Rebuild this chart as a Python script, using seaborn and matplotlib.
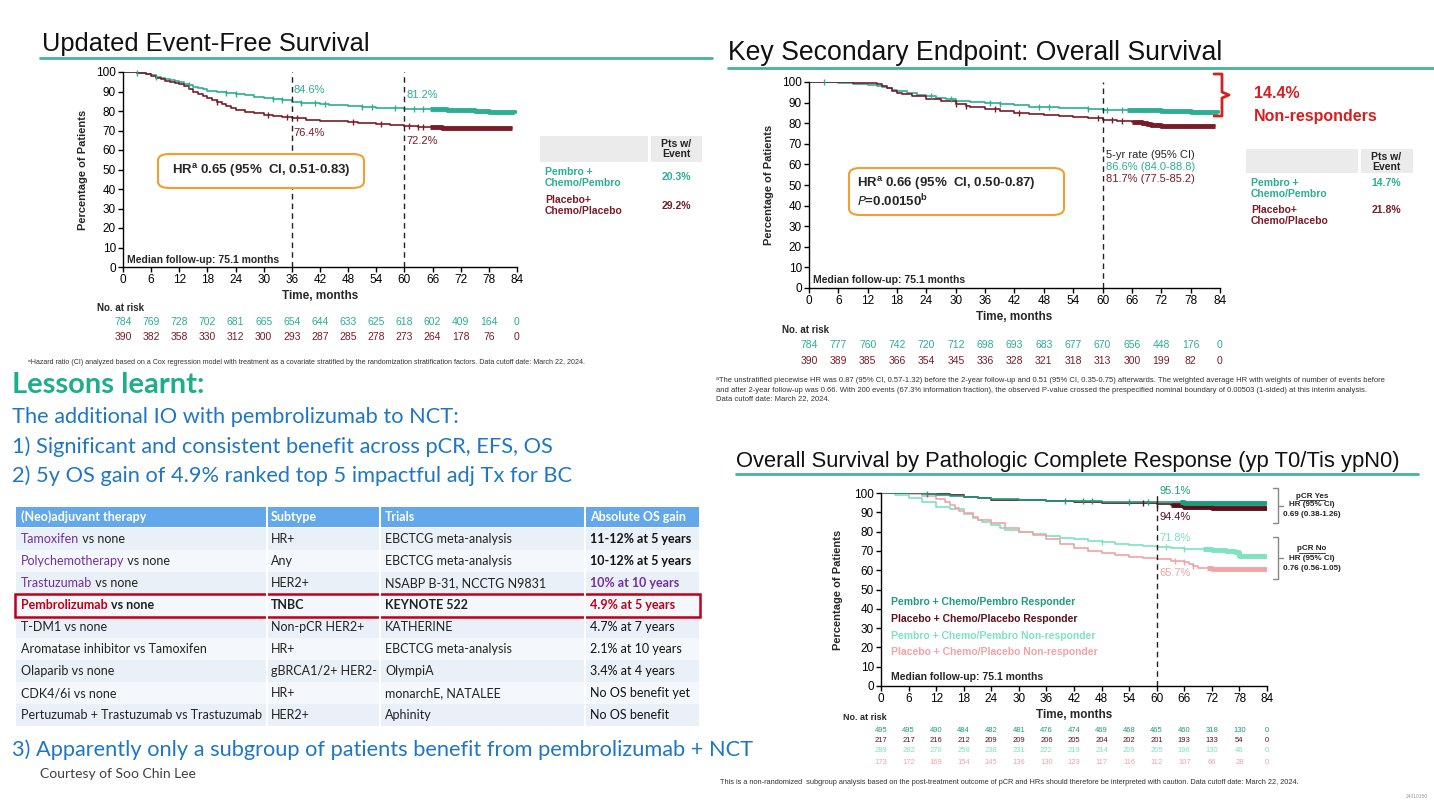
import numpy as np
import pandas as pd
import matplotlib
matplotlib.use("Agg")
import matplotlib.pyplot as plt
import seaborn as sns
from matplotlib import font_manager
from matplotlib.patches import Rectangle, FancyBboxPatch
from matplotlib.lines import Line2D

# ---------------- data ----------------
months = list(range(0, 85, 6))

# Event-free survival (KEYNOTE-522)
efs_pembro_t = [0, 3, 5, 6, 7, 8, 9, 10, 11, 12, 13, 14, 15, 16, 17, 18, 20, 22, 24, 26, 28, 30, 32, 34, 36, 38, 40, 42, 44, 46, 48, 51, 54, 57, 60, 63, 66, 69, 72, 75, 78, 81, 83.5]
efs_pembro_s = [100, 99.6, 99.2, 98.4, 97.6, 96.8, 96.2, 95.7, 95.2, 94.7, 94.0, 93.2, 92.5, 91.8, 91.1, 90.5, 89.9, 89.3, 88.6, 88.0, 87.4, 86.8, 86.2, 85.6, 84.6, 84.3, 84.0, 83.6, 83.2, 82.9, 82.6, 82.2, 81.7, 81.4, 81.2, 81.0, 80.8, 80.6, 80.3, 80.0, 79.6, 79.3, 79.2]
efs_placebo_t = [0, 3, 5, 6, 7, 8, 9, 10, 11, 12, 13, 14, 15, 16, 17, 18, 19, 20, 21, 22, 23, 24, 26, 28, 30, 32, 34, 36, 39, 42, 45, 48, 50, 52, 54, 57, 60, 63, 66, 68, 70, 83]
efs_placebo_s = [100, 99.6, 99.0, 98.0, 97.0, 96.2, 95.5, 95.0, 94.5, 93.8, 92.6, 91.4, 90.0, 88.8, 87.6, 86.5, 85.5, 84.5, 83.5, 82.5, 81.5, 80.5, 79.6, 78.8, 78.0, 77.3, 76.8, 76.4, 75.6, 75.0, 74.8, 74.6, 74.0, 73.6, 73.2, 72.7, 72.2, 71.9, 71.6, 71.4, 71.2, 71.2]
efs_pembro_cens = [3, 7, 14, 22, 24, 32, 34, 38, 41, 43, 51, 53, 58, 62, 64]
efs_placebo_cens = [20, 31, 35, 37, 49, 55, 61, 63, 64]
efs_pembro_dense = (65.5, 83.5)
efs_placebo_dense = (65.5, 83)
efs_risk_pembro = [784, 769, 728, 702, 681, 665, 654, 644, 633, 625, 618, 602, 409, 164, 0]
efs_risk_placebo = [390, 382, 358, 330, 312, 300, 293, 287, 285, 278, 273, 264, 178, 76, 0]

# Overall survival
os_pembro_t = [0, 6, 9, 12, 14, 15, 16, 17, 18, 20, 22, 24, 26, 28, 30, 33, 36, 39, 42, 45, 48, 51, 54, 57, 60, 63, 66, 69, 72, 75, 78, 81, 83.5]
os_pembro_s = [100, 99.6, 99.2, 98.6, 98.0, 97.6, 97.0, 96.3, 95.5, 94.6, 93.8, 93.0, 92.3, 91.6, 91.0, 90.4, 89.8, 89.2, 88.6, 88.1, 87.7, 87.4, 87.2, 86.9, 86.6, 86.5, 86.4, 86.2, 86.0, 85.8, 85.5, 85.2, 85.0]
os_placebo_t = [0, 9, 12, 14, 15, 16, 17, 18, 19, 21, 24, 27, 30, 32, 33, 36, 39, 42, 45, 48, 51, 54, 57, 60, 63, 66, 68, 69, 70, 72, 83]
os_placebo_s = [100, 99.7, 99.4, 99.0, 98.2, 97.0, 95.8, 94.8, 94.0, 93.3, 91.9, 90.6, 89.2, 88.4, 87.8, 86.9, 85.8, 84.9, 84.3, 83.8, 83.4, 83.0, 82.3, 81.7, 80.9, 80.4, 80.0, 79.5, 79.0, 78.5, 78.5]
os_pembro_cens = [3, 25, 29, 37, 39, 47, 49, 57, 61, 64]
os_placebo_cens = [30, 32, 38, 43, 59, 62, 64]
os_pembro_dense = (65, 83.5)
os_placebo_dense = (66, 83)
os_risk_pembro = [784, 777, 760, 742, 720, 712, 698, 693, 683, 677, 670, 656, 448, 176, 0]
os_risk_placebo = [390, 389, 385, 366, 354, 345, 336, 328, 321, 318, 313, 300, 199, 82, 0]

# OS by pathologic complete response
pcr_pr_t = [0, 9, 12, 15, 18, 21, 24, 27, 30, 36, 42, 48, 54, 60, 66, 72, 78, 84]
pcr_pr_s = [100, 99.6, 99.2, 98.6, 98.0, 97.5, 97.0, 96.8, 96.5, 96.0, 95.8, 95.5, 95.3, 95.1, 95.0, 94.8, 94.6, 94.3]
pcr_plr_t = [0, 10, 12, 15, 18, 21, 24, 30, 36, 42, 48, 54, 60, 63, 66, 69, 72, 84]
pcr_plr_s = [100, 99.7, 99.5, 98.8, 98.0, 97.2, 96.5, 96.3, 96.0, 95.5, 95.0, 94.6, 94.4, 93.6, 93.0, 92.7, 92.4, 92.2]
pcr_pn_t = [0, 3, 6, 9, 12, 15, 18, 20, 21, 22, 24, 26, 27, 30, 33, 36, 39, 42, 45, 48, 51, 54, 57, 60, 63, 66, 69, 72, 75, 77, 78, 84]
pcr_pn_s = [100, 99.0, 97.5, 95.5, 93.0, 91.5, 89.0, 87.3, 86.0, 85.0, 83.5, 82.0, 81.0, 79.7, 78.5, 77.5, 76.8, 76.0, 75.2, 74.5, 73.8, 73.2, 72.6, 71.8, 71.5, 71.0, 70.8, 70.5, 70.2, 69.3, 67.6, 67.3]
pcr_pln_t = [0, 6, 9, 12, 14, 15, 16, 17, 18, 20, 21, 24, 27, 30, 33, 36, 39, 42, 45, 48, 51, 54, 57, 60, 63, 66, 67, 68, 69, 72, 84]
pcr_pln_s = [100, 99.3, 98.5, 97.0, 95.5, 94.0, 92.2, 90.6, 89.5, 87.5, 86.0, 84.5, 82.0, 80.0, 78.3, 76.0, 73.5, 71.5, 70.0, 68.8, 68.0, 67.0, 66.3, 65.7, 64.8, 64.2, 63.0, 62.0, 61.0, 60.5, 60.5]
pcr_pn_dense = (70, 84)
pcr_pln_dense = (71, 84)
pcr_pr_dense = (65, 84)
pcr_plr_dense = (63, 84)
pcr_risk = [
    [495, 495, 490, 484, 482, 481, 476, 474, 469, 468, 465, 460, 318, 130, 0],
    [217, 217, 216, 212, 209, 209, 206, 205, 204, 202, 201, 193, 133, 54, 0],
    [289, 282, 270, 258, 238, 231, 222, 219, 214, 209, 205, 196, 130, 46, 0],
    [173, 172, 169, 154, 145, 136, 130, 123, 117, 116, 112, 107, 66, 28, 0],
]
pcr_labels = ["Pembro + Chemo/Pembro Responder", "Placebo + Chemo/Placebo Responder",
              "Pembro + Chemo/Pembro Non-responder", "Placebo + Chemo/Placebo Non-responder"]

# table of adjuvant therapies
tbl_header = ["(Neo)adjuvant therapy", "Subtype", "Trials", "Absolute OS gain"]
tbl_drug = ["Tamoxifen", "Polychemotherapy", "Trastuzumab", "Pembrolizumab", "", "", "", "", ""]
tbl_rest = [" vs none", " vs none", " vs none", " vs none", "T-DM1 vs none", "Aromatase inhibitor vs Tamoxifen",
            "Olaparib vs none", "CDK4/6i vs none", "Pertuzumab + Trastuzumab vs Trastuzumab"]
tbl_subtype = ["HR+", "Any", "HER2+", "TNBC", "Non-pCR HER2+", "HR+", "gBRCA1/2+ HER2-", "HR+", "HER2+"]
tbl_trials = ["EBCTCG meta-analysis", "EBCTCG meta-analysis", "NSABP B-31, NCCTG N9831", "KEYNOTE 522",
              "KATHERINE", "EBCTCG meta-analysis", "OlympiA", "monarchE, NATALEE", "Aphinity"]
tbl_gain = ["11-12% at 5 years", "10-12% at 5 years", "10% at 10 years", "4.9% at 5 years", "4.7% at 7 years",
            "2.1% at 10 years", "3.4% at 4 years", "No OS benefit yet", "No OS benefit"]

# ---------------- style ----------------
sns.set_style("white")
names = {f.name for f in font_manager.fontManager.ttflist}
NARROW = "Liberation Sans Narrow" if "Liberation Sans Narrow" in names else "Liberation Sans"
plt.rcParams["font.family"] = ["Liberation Sans", "DejaVu Sans"]
CAL = ["Lato", "DejaVu Sans"]

TEAL = "#2bae93"
DRED = "#7a1b28"
LTEAL = "#7de3c1"
PINK = "#f2a3a5"
RTEAL = "#1f9c7c"
RDRED = "#5e0f1c"
LINE = "#45b39d"
BLUE = "#1f77c4"
PURPLE = "#7030a0"
RED = "#c00018"

W, H = 1434, 806
fig = plt.figure(figsize=(W / 100, H / 100), dpi=100)


def add_ax(x0, y0, x1, y1):
    return fig.add_axes([x0 / W, 1 - y1 / H, (x1 - x0) / W, (y1 - y0) / H])


def ftext(x, y, s, **kw):
    kw.setdefault("va", "baseline")
    return fig.text(x / W, 1 - y / H, s, **kw)


def step_at(t, s, x):
    idx = np.searchsorted(t, x, side="right") - 1
    return np.asarray(s)[idx]


def km(ax, curves, lw=1.2):
    rows = []
    for i, c in enumerate(curves):
        rows += [(i, a, b) for a, b in zip(c["t"], c["s"])]
    df = pd.DataFrame(rows, columns=["arm", "t", "s"])
    pal = {i: c["color"] for i, c in enumerate(curves)}
    sns.lineplot(data=df, x="t", y="s", hue="arm", palette=pal, estimator=None, sort=False,
                 drawstyle="steps-post", lw=lw, legend=False, ax=ax)
    for c in curves:
        t, s = np.asarray(c["t"]), np.asarray(c["s"])
        if c.get("cens"):
            ax.plot(c["cens"], step_at(t, s, c["cens"]), ls="none", marker="|", ms=5,
                    mew=1.0, color=c["color"], clip_on=False)
        if c.get("dense"):
            w0, w1 = c["dense"]
            sub_t = [w0] + [x for x in t if w0 < x < w1] + [w1]
            ax.plot(sub_t, step_at(t, s, sub_t), drawstyle="steps-post", lw=3.5,
                    color=c["color"], solid_capstyle="butt")


def style_ax(ax, fs=8.5, ypad=6):
    ax.set_xlim(0, 84)
    ax.set_ylim(0, 100)
    ax.set_xticks(months)
    ax.set_yticks(range(0, 101, 10))
    ax.patch.set_alpha(0)
    for sp in ["top", "right"]:
        ax.spines[sp].set_visible(False)
    for sp in ["left", "bottom"]:
        ax.spines[sp].set_color("black")
        ax.spines[sp].set_linewidth(1.0)
    ax.tick_params(direction="out", length=3.5, width=1, labelsize=fs, pad=1.5,
                   left=True, bottom=True, colors="black")
    for lab in ax.get_xticklabels() + ax.get_yticklabels():
        lab.set_family(NARROW)
    ax.set_xlabel("Time, months", fontsize=fs, fontweight="bold", family=NARROW, labelpad=3)
    ax.set_ylabel("Percentage of Patients", fontsize=fs - 0.5, fontweight="bold", labelpad=ypad)


def at_risk(ax, rows, colors, ys, fs):
    x0, x1 = ax.get_position().x0 * W, ax.get_position().x1 * W
    for vals, col, y in zip(rows, colors, ys):
        for m, v in zip(months, vals):
            ftext(x0 + (x1 - x0) * m / 84, y, str(v), ha="center", va="center",
                  fontsize=fs, color=col, family=NARROW)


def title(x, y, s, x0, x1, yl, fs):
    ftext(x, y, s, fontsize=fs, family=NARROW, color="#111111")
    fig.add_artist(Line2D([x0 / W, x1 / W], [1 - yl / H, 1 - yl / H], color=LINE, lw=2))


def pts_table(x0, xm, x1, y0, y1, rows):
    for a, b in [(x0, xm - 2), (xm + 1, x1)]:
        fig.add_artist(Rectangle((a / W, 1 - y1 / H), (b - a) / W, (y1 - y0) / H,
                                 color="#ebebeb", lw=0))
    xc = (xm + x1) / 2
    ftext(xc, y0 + 8, "Pts w/", ha="center", va="center", fontsize=7.5, fontweight="bold", color="#222")
    ftext(xc, y0 + 18, "Event", ha="center", va="center", fontsize=7.5, fontweight="bold", color="#222")
    for l1, l2, val, yv, ya, col in rows:
        ftext(x0 + 5, ya, l1, va="center", fontsize=7.5, fontweight="bold", color=col)
        ftext(x0 + 5, ya + 11, l2, va="center", fontsize=7.5, fontweight="bold", color=col)
        ftext(xc, yv, val, ha="center", va="center", fontsize=7.5, fontweight="bold", color=col)


# ---------------- panel 1: EFS ----------------
title(42, 51, "Updated Event-Free Survival", 40, 712, 58, 18.3)
ax1 = add_ax(123, 72, 517, 267)
km(ax1, [dict(t=efs_pembro_t, s=efs_pembro_s, color=TEAL, cens=efs_pembro_cens, dense=efs_pembro_dense),
         dict(t=efs_placebo_t, s=efs_placebo_s, color=DRED, cens=efs_placebo_cens, dense=efs_placebo_dense)])
style_ax(ax1)
for m in [36, 60]:
    ax1.axvline(m, color="#222", lw=1, ls=(0, (4, 3)))
ax1.text(36.4, 90.6, "84.6%", color=TEAL, fontsize=8, va="center", family=NARROW)
ax1.text(36.4, 68.7, "76.4%", color=DRED, fontsize=8, va="center", family=NARROW)
ax1.text(60.4, 88.0, "81.2%", color=TEAL, fontsize=8, va="center", family=NARROW)
ax1.text(60.4, 64.4, "72.2%", color=DRED, fontsize=8, va="center", family=NARROW)
ax1.text(0.9, 3.8, "Median follow-up: 75.1 months", fontsize=7.5, fontweight="bold", va="center", family=NARROW)
fig.add_artist(FancyBboxPatch((158 / W, 1 - 188 / H), 206 / W, 34 / H, boxstyle="round,pad=0,rounding_size=0.008",
                              fc="white", ec="#f0a030", lw=1.5))
ftext(261, 171, r"HR$^\mathregular{a}$ 0.65 (95%  CI, 0.51-0.83)", ha="center", va="center",
      fontsize=9.5, fontweight="bold", family=NARROW)
ftext(97, 308, "No. at risk", va="center", fontsize=7, fontweight="bold", family=NARROW)
at_risk(ax1, [efs_risk_pembro, efs_risk_placebo], [TEAL, DRED], [322, 337], 7.5)
pts_table(540, 650, 702, 136, 162, [("Pembro +", "Chemo/Pembro", "20.3%", 177, 172, TEAL),
                                     ("Placebo+", "Chemo/Placebo", "29.2%", 206, 200, DRED)])
ftext(28, 363, "ᵃHazard ratio (CI) analyzed based on a Cox regression model with treatment as a covariate stratified by "
      "the randomization stratification factors. Data cutoff date: March 22, 2024.", va="center", fontsize=5.1, color="#333")

# ---------------- panel 2: OS ----------------
title(728, 60, "Key Secondary Endpoint: Overall Survival", 728, 1434, 68, 19.2)
ax2 = add_ax(809, 82, 1220, 288)
km(ax2, [dict(t=os_pembro_t, s=os_pembro_s, color=TEAL, cens=os_pembro_cens, dense=os_pembro_dense),
         dict(t=os_placebo_t, s=os_placebo_s, color=DRED, cens=os_placebo_cens, dense=os_placebo_dense)])
style_ax(ax2)
ax2.axvline(60, color="#222", lw=1, ls=(0, (4, 3)))
ax2.text(60.6, 64.6, "5-yr rate (95% CI)", fontsize=8, va="center", family=NARROW)
ax2.text(60.6, 58.7, "86.6% (84.0-88.8)", fontsize=8, va="center", color=TEAL, family=NARROW)
ax2.text(60.6, 52.9, "81.7% (77.5-85.2)", fontsize=8, va="center", color=DRED, family=NARROW)
ax2.text(0.9, 4.0, "Median follow-up: 75.1 months", fontsize=7.5, fontweight="bold", va="center", family=NARROW)
fig.add_artist(FancyBboxPatch((849 / W, 1 - 215 / H), 215 / W, 47 / H, boxstyle="round,pad=0,rounding_size=0.008",
                              fc="white", ec="#f0a030", lw=1.5))
ftext(857, 184, r"HR$^\mathregular{a}$ 0.66 (95%  CI, 0.50-0.87)", va="center", fontsize=9.5,
      fontweight="bold", family=NARROW)
ftext(857, 201, r"$\mathbf{\it{P}}$=0.00150$^\mathregular{b}$", va="center", fontsize=9.5, fontweight="bold", family=NARROW)
bx = [1214, 1222, 1222, 1229, 1222, 1222, 1214]
by = [74, 74, 92, 95, 98, 116, 116]
fig.add_artist(Line2D([x / W for x in bx], [1 - y / H for y in by], color="#d42020", lw=2))
ftext(1254, 93, "14.4%", va="center", fontsize=11.5, fontweight="bold", color="#d42020")
ftext(1254, 117, "Non-responders", va="center", fontsize=11.5, fontweight="bold", color="#d42020")
ftext(782, 330, "No. at risk", va="center", fontsize=7, fontweight="bold", family=NARROW)
at_risk(ax2, [os_risk_pembro, os_risk_placebo], [TEAL, DRED], [345, 361], 7.5)
pts_table(1246, 1360, 1413, 149, 173, [("Pembro +", "Chemo/Pembro", "14.7%", 183, 183, TEAL),
                                       ("Placebo+", "Chemo/Placebo", "21.8%", 210, 210, DRED)])
ftext(716, 380, "ᵃThe unstratified piecewise HR was 0.87 (95% CI, 0.57-1.32) before the 2-year follow-up and 0.51 (95% CI, "
      "0.35-0.75) afterwards. The weighted average HR with weights of number of events before", va="center", fontsize=5.5, color="#333")
ftext(716, 390, "and after 2-year follow-up was 0.66. With 200 events (67.3% information fraction), the observed P-value "
      "crossed the prespecified nominal boundary of 0.00503 (1-sided) at this interim analysis.", va="center", fontsize=5.5, color="#333")
ftext(716, 399, "Data cutoff date: March 22, 2024.", va="center", fontsize=5.5, color="#333")

# ---------------- panel 3: OS by pCR ----------------
title(736, 467, "Overall Survival by Pathologic Complete Response (yp T0/Tis ypN0)", 736, 1418, 474, 15.8)
ax3 = add_ax(881, 493, 1267, 686)
pcr_cols = [RTEAL, RDRED, LTEAL, PINK]
km(ax3, [dict(t=pcr_pn_t, s=pcr_pn_s, color=LTEAL, dense=pcr_pn_dense, cens=[48, 62, 66]),
         dict(t=pcr_pln_t, s=pcr_pln_s, color=PINK, dense=pcr_pln_dense, cens=[64, 66, 68]),
         dict(t=pcr_plr_t, s=pcr_plr_s, color=RDRED, dense=pcr_plr_dense, cens=[57, 60]),
         dict(t=pcr_pr_t, s=pcr_pr_s, color=RTEAL, dense=pcr_pr_dense, cens=[10, 40, 44, 46, 54, 58])])
style_ax(ax3, ypad=8)
ax3.axvline(60, color="#222", lw=1, ls=(0, (4, 3)))
ax3.text(60.6, 101, "95.1%", fontsize=8, va="center", color=RTEAL, family=NARROW, clip_on=False)
ax3.text(60.6, 87.6, "94.4%", fontsize=8, va="center", color=RDRED, family=NARROW)
ax3.text(60.6, 76.7, "71.8%", fontsize=8, va="center", color=LTEAL, family=NARROW)
ax3.text(60.6, 58.5, "65.7%", fontsize=8, va="center", color=PINK, family=NARROW)
for lab, col, y in zip(pcr_labels, pcr_cols, [43.5, 34.7, 25.9, 17.6]):
    ax3.text(2.2, y, lab, fontsize=7.5, fontweight="bold", color=col, va="center", family=NARROW)
ax3.text(2.2, 4.7, "Median follow-up: 75.1 months", fontsize=7.5, fontweight="bold", va="center", family=NARROW)
for ya, yb in [(488, 523), (537, 579)]:
    ym = (ya + yb) / 2
    fig.add_artist(Line2D([1273 / W, 1278 / W, 1278 / W, 1273 / W], [1 - ya / H, 1 - ya / H, 1 - yb / H, 1 - yb / H],
                          color="#888", lw=1))
    fig.add_artist(Line2D([1279 / W, 1283 / W], [1 - ym / H, 1 - ym / H], color="#888", lw=1))
for y, head, hr in [(496, "pCR Yes", "0.69 (0.38-1.26)"), (549, "pCR No", "0.76 (0.56-1.05)")]:
    t = ftext(1312, y, head, ha="center", va="center", fontsize=5.8, fontweight="bold", color="#222")
    fig.add_artist(Line2D([1299 / W, 1325 / W], [1 - (y + 4) / H, 1 - (y + 4) / H], color="#222", lw=0.6))
    ftext(1312, y + 9, "HR (95% CI)", ha="center", va="center", fontsize=5.8, fontweight="bold", color="#222")
    ftext(1312, y + 19, hr, ha="center", va="center", fontsize=5.8, fontweight="bold", color="#222")
ftext(843, 718, "No. at risk", va="center", fontsize=6.5, fontweight="bold", family=NARROW)
at_risk(ax3, pcr_risk, pcr_cols, [731, 741, 751, 762], 5.5)
ftext(720, 782, "This is a non-randomized  subgroup analysis based on the post-treatment outcome of pCR and HRs should "
      "therefore be interpreted with caution. Data cutoff date: March 22, 2024.", va="center", fontsize=5.3, color="#333")
ftext(1428, 797, "24010150", ha="right", va="center", fontsize=3.5, color="#999")

# ---------------- left: lessons + table ----------------
ftext(12, 393, "Lessons learnt:", fontsize=21, fontweight="bold", color="#1fae8c", family=CAL)
lines = ["The additional IO with pembrolizumab to NCT:",
         "1) Significant and consistent benefit across pCR, EFS, OS",
         "2) 5y OS gain of 4.9% ranked top 5 impactful adj Tx for BC"]
for s, y in zip(lines, [423, 453, 482]):
    ftext(12, y, s, fontsize=15.7, color=BLUE, family=CAL)
ftext(12, 756, "3) Apparently only a subgroup of patients benefit from pembrolizumab + NCT", fontsize=15.7,
      color=BLUE, family=CAL)
ftext(40, 778, "Courtesy of Soo Chin Lee", fontsize=10, color="#404040", family=CAL)

col_x = [21, 271, 385, 590]
col_edges = [16, 267, 380, 585, 699]
fig.add_artist(Rectangle((16 / W, 1 - 527 / H), 683 / W, 20 / H, color="#62a8ea", lw=0))
for x, s in zip(col_x, tbl_header):
    ftext(x, 517, s, va="center", fontsize=9, fontweight="bold", color="white", family=CAL)
renderer = fig.canvas.get_renderer()
for i in range(len(tbl_rest)):
    y0 = 528 + 22 * i
    yc = y0 + 11
    fig.add_artist(Rectangle((16 / W, 1 - (y0 + 22) / H), 683 / W, 22 / H,
                             color="#e9f0f8" if i % 2 == 0 else "#f4f7fb", lw=0))
    hl = i == 3
    wt = "bold" if hl else "normal"
    xx = col_x[0]
    if tbl_drug[i]:
        t = ftext(xx, yc, tbl_drug[i], va="center", fontsize=9, color=RED if hl else PURPLE,
                  fontweight="bold" if hl else "normal", family=CAL)
        xx = t.get_window_extent(renderer).x1
    ftext(xx, yc, tbl_rest[i], va="center", fontsize=9, color="#222", fontweight=wt, family=CAL)
    ftext(col_x[1], yc, tbl_subtype[i], va="center", fontsize=9, color="#222", fontweight=wt, family=CAL)
    ftext(col_x[2], yc, tbl_trials[i], va="center", fontsize=9, color="#222", fontweight=wt, family=CAL)
    gcol = {2: PURPLE, 3: RED}.get(i, "#111")
    ftext(col_x[3], yc, tbl_gain[i], va="center", fontsize=9, color=gcol,
          fontweight="bold" if i < 4 else "normal", family=CAL)
for x in col_edges[1:-1]:
    fig.add_artist(Line2D([x / W, x / W], [1 - 507 / H, 1 - 726 / H], color="white", lw=1.5))
fig.add_artist(Rectangle((15 / W, 1 - 617 / H), 685 / W, 23 / H, fill=False, ec=RED, lw=1.8))

fig.savefig("out.png", dpi=100)
